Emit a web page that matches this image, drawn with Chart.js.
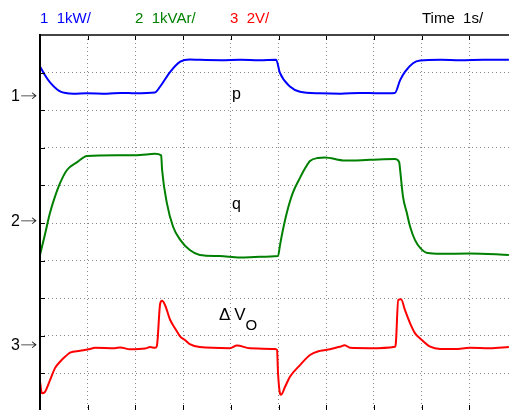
<!DOCTYPE html>
<html>
<head>
    <title>p, q and dVo traces</title>
    <script src="https://cdn.jsdelivr.net/npm/chart.js"></script>
    <style>
        body { margin: 0; overflow: hidden; background: #fff; }
        #wrap { position: relative; width: 530px; height: 420px; }
        .t { position: absolute; font-family: "Liberation Sans", Arial, sans-serif; font-size: 15px; line-height: 15px; white-space: pre; color: #000; }
        .arr { display: inline-block; font-family: "DejaVu Sans", sans-serif; font-weight: 200; transform: scaleX(1.3); transform-origin: left center; color: #222; }
    </style>
</head>
<body>
<div id="wrap">
    <canvas id="chart" width="530" height="420"></canvas>
    <div class="t" style="left:40px;top:10px;color:#0000ff">1  1kW/</div>
    <div class="t" style="left:135px;top:10px;color:#008000">2  1kVAr/</div>
    <div class="t" style="left:230px;top:10px;color:#ff0000">3  2V/</div>
    <div class="t" style="left:422px;top:10px">Time  1s/</div>
    <div class="t" style="left:11px;top:88px;font-size:16px">1<span class="arr">→</span></div>
    <div class="t" style="left:11px;top:213px;font-size:16px">2<span class="arr">→</span></div>
    <div class="t" style="left:11px;top:337px;font-size:16px">3<span class="arr">→</span></div>
    <div class="t" style="left:232px;top:86px;font-size:16px">p</div>
    <div class="t" style="left:232px;top:196px;font-size:16px">q</div>
    <div class="t" style="left:219px;top:307px;font-size:17px">Δ V<span style="font-size:15px;position:relative;top:10px">O</span></div>
</div>

<script>
    // time in s (1 s/div), amplitude in screen divisions counted from the bottom
    const pTime = [0, 0.105, 0.21, 0.42, 0.7, 0.98, 1.4, 1.7, 2.0, 2.41, 2.52, 2.73, 2.94, 3.14, 3.35, 3.8, 4.2, 4.6, 4.95,
        5.03, 5.24, 5.45, 5.87, 6.3, 6.71, 7.1, 7.44, 7.55, 7.65, 7.82, 7.97, 8.4, 8.81, 9.3, 9.83];
    const pDiv = [9.16, 8.93, 8.74, 8.50, 8.44, 8.45, 8.44, 8.46, 8.45, 8.47, 8.63, 9.02, 9.29, 9.35, 9.34, 9.33, 9.34, 9.33, 9.34,
        8.99, 8.63, 8.49, 8.45, 8.44, 8.46, 8.45, 8.46, 8.80, 9.02, 9.25, 9.32, 9.34, 9.33, 9.34, 9.34];

    const qTime = [0, 0.105, 0.21, 0.314, 0.42, 0.566, 0.78, 0.985, 1.68, 2.1, 2.41, 2.54, 2.56, 2.66, 2.79, 2.94, 3.14, 3.35,
        3.77, 4.19, 4.61, 4.99, 5.03, 5.09, 5.18, 5.30, 5.45, 5.56, 5.66, 5.83, 5.97, 6.39, 6.92, 7.44, 7.53,
        7.55, 7.61, 7.69, 7.76, 7.86, 7.97, 8.13, 8.39, 9.01, 9.83];
    const qDiv = [4.15, 4.70, 5.27, 5.70, 6.06, 6.41, 6.62, 6.78, 6.80, 6.81, 6.84, 6.80, 6.41, 5.53, 4.90, 4.55, 4.28, 4.15,
        4.12, 4.08, 4.10, 4.12, 4.40, 4.80, 5.30, 5.80, 6.20, 6.46, 6.65, 6.73, 6.74, 6.66, 6.68, 6.70, 6.62,
        6.41, 5.70, 5.27, 4.90, 4.55, 4.34, 4.20, 4.18, 4.19, 4.15];

    const vTime = [0, 0.04, 0.105, 0.21, 0.314, 0.42, 0.524, 0.63, 0.84, 1.05, 1.15, 1.57, 1.68, 1.89, 2.2, 2.31, 2.41, 2.45,
        2.52, 2.56, 2.62, 2.73, 2.83, 2.94, 3.04, 3.14, 3.35, 3.98, 4.13, 4.40, 4.93, 4.97, 4.99, 5.03, 5.05,
        5.14, 5.24, 5.45, 5.66, 5.87, 6.08, 6.29, 6.39, 6.50, 6.92, 7.44, 7.46, 7.51, 7.57, 7.65, 7.76, 7.86,
        7.97, 8.18, 8.39, 8.70, 9.01, 9.43, 9.83];
    const vDiv = [0.78, 0.47, 0.51, 0.82, 1.14, 1.31, 1.44, 1.55, 1.60, 1.65, 1.68, 1.67, 1.69, 1.64, 1.66, 1.70, 1.68, 1.73,
        2.86, 2.93, 2.82, 2.42, 2.20, 1.98, 1.89, 1.78, 1.70, 1.67, 1.74, 1.67, 1.65, 1.62, 1.01, 0.47, 0.43,
        0.65, 0.91, 1.22, 1.49, 1.60, 1.64, 1.71, 1.75, 1.68, 1.67, 1.71, 1.80, 2.95, 2.97, 2.69, 2.33, 2.07,
        1.93, 1.71, 1.65, 1.65, 1.68, 1.67, 1.70];

    const pts = (xs, ys) => xs.map((x, i) => ({ x: x, y: ys[i] }));

    const trace = (data, color) => ({
        data: data,
        borderColor: color,
        borderWidth: 2,
        pointRadius: 0,
        fill: false,
        cubicInterpolationMode: 'monotone'
    });

    // solid left/top edges and the small inward ticks of the scope screen
    const frame = {
        id: 'frame',
        afterDatasetsDraw(chart) {
            const ctx = chart.ctx;
            const a = chart.chartArea;
            const xs = chart.scales.x, ys = chart.scales.y;
            ctx.save();
            ctx.strokeStyle = '#000';
            ctx.lineWidth = 1;
            ctx.beginPath();
            for (let v = 1; v <= 10; v++) {
                const px = Math.round(xs.getPixelForValue(v)) + 0.5;
                ctx.moveTo(px, a.top); ctx.lineTo(px, a.top + 5);
                ctx.moveTo(px, a.bottom); ctx.lineTo(px, a.bottom - 6);
            }
            for (let v = 1; v < 10; v++) {
                const py = Math.round(ys.getPixelForValue(v)) + 0.5;
                ctx.moveTo(a.left, py); ctx.lineTo(a.left + 5, py);
            }
            ctx.stroke();
            ctx.lineWidth = 2;
            ctx.strokeStyle = '#444';
            ctx.beginPath();
            ctx.moveTo(a.left, a.top); ctx.lineTo(a.right, a.top);
            ctx.stroke();
            ctx.strokeStyle = '#000';
            ctx.beginPath();
            ctx.moveTo(a.left, a.top - 1); ctx.lineTo(a.left, a.bottom);
            ctx.stroke();
            ctx.restore();
        }
    };

    const gridOpts = { color: '#888', lineWidth: 1, drawTicks: false };

    new Chart(document.getElementById('chart'), {
        type: 'line',
        data: {
            datasets: [
                trace(pts(pTime, pDiv), '#0000ff'),
                trace(pts(qTime, qDiv), '#008000'),
                trace(pts(vTime, vDiv), '#ff0000')
            ]
        },
        options: {
            responsive: false,
            animation: false,
            layout: { padding: { left: 40, top: 35, right: 13, bottom: 9 } },
            plugins: { legend: { display: false }, tooltip: { enabled: false } },
            scales: {
                x: {
                    type: 'linear', min: 0, max: 10,
                    ticks: { display: false, stepSize: 1 },
                    grid: gridOpts,
                    border: { display: false, dash: [1, 3] },
                    afterFit: s => { s.height = 0; }
                },
                y: {
                    min: 0, max: 10,
                    ticks: { display: false, stepSize: 1 },
                    grid: gridOpts,
                    border: { display: false, dash: [1, 3] },
                    afterFit: s => { s.width = 0; }
                }
            }
        },
        plugins: [frame]
    });
</script>
</body>
</html>
